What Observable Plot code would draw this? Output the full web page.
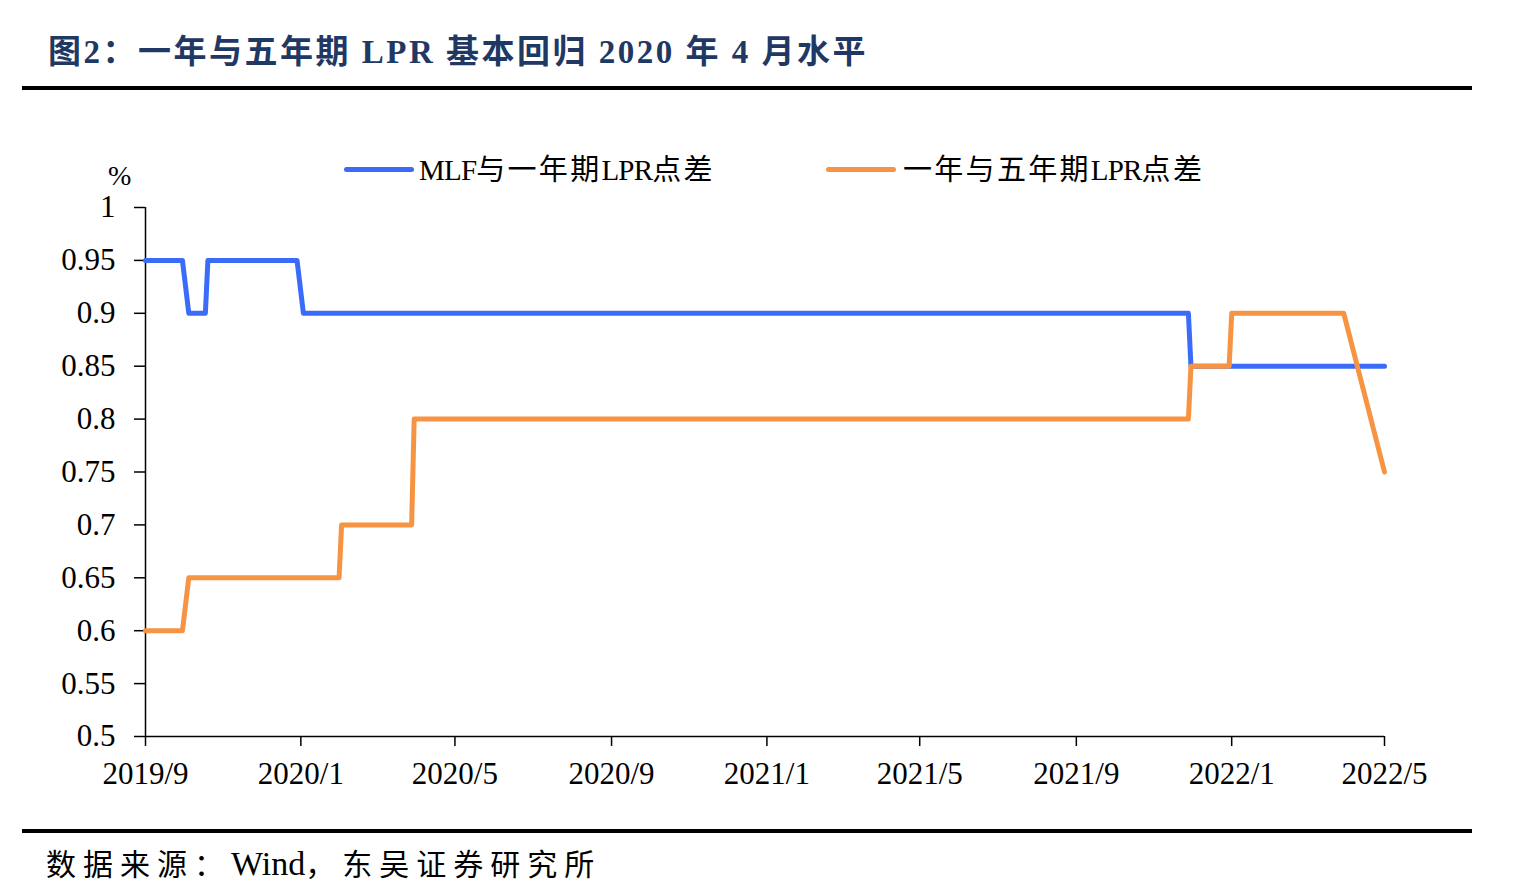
<!DOCTYPE html>
<html>
<head>
<meta charset="utf-8">
<script src="https://cdn.jsdelivr.net/npm/d3@7"></script>
<script src="https://cdn.jsdelivr.net/npm/@observablehq/plot@0.6"></script>
<style>
  html, body { margin: 0; padding: 0; background: #fff; }
  #page { position: relative; width: 1516px; height: 894px; overflow: hidden; background: #fff; }
  #chart { position: absolute; left: 0; top: 0; }
  .abs { position: absolute; white-space: nowrap; }
  #title { left: 48px; top: 30px; font: bold 33px/44px "Liberation Serif", "Noto Sans CJK SC", serif; color: #1f3864; letter-spacing: 2.5px; }
  .rule { position: absolute; left: 22px; width: 1450px; height: 4px; background: #000; }
  #source { left: 46px; top: 844px; font: 30px/40px "Liberation Serif", "Noto Sans CJK SC", serif; color: #000; }
  #source .cjk { letter-spacing: 7px; }
  #source .lat { letter-spacing: 0; font-size: 34px; }
  .legtext { font: 29px/36px "Liberation Serif", "Noto Sans CJK SC", serif; color: #000; top: 152px; }
  .legtext .cjk { letter-spacing: 2.3px; }
  .legtext .lat { letter-spacing: -0.8px; }
  .legline { position: absolute; height: 5px; border-radius: 3px; top: 167px; width: 70px; }
  #unit { left: 108px; top: 159px; font: 28px/34px "Liberation Serif", serif; color: #000; }
</style>
</head>
<body>
<div id="page">
  <div id="chart"></div>
  <div id="title" class="abs">图2：一年与五年期 LPR 基本回归 2020 年 4 月水平</div>
  <div class="rule" style="top:86px"></div>
  <div class="rule" style="top:829px"></div>
  <div id="source" class="abs"></div>
  <div id="unit" class="abs">%</div>
  <div class="legline" id="leg1line" style="left:344px"></div>
  <div class="abs legtext" id="leg1text" style="left:419px"></div>
  <div class="legline" id="leg2line" style="left:826px"></div>
  <div class="abs legtext" id="leg2text" style="left:903px"></div>
</div>
<script>
// ---- data ----
const seriesNames = ["MLF与一年期LPR点差", "一年与五年期LPR点差"];
const seriesColors = ["#3b6cf9", "#f79443"];
const sourceText = "数据来源：Wind，东吴证券研究所";

const mlfDates = ["2019-09-01","2019-09-30","2019-10-05","2019-10-18","2019-10-20","2019-12-29","2020-01-03","2021-11-28","2021-11-30","2022-05-01"];
const mlfValues = [0.95, 0.95, 0.90, 0.90, 0.95, 0.95, 0.90, 0.90, 0.85, 0.85];

const lprDates = ["2019-09-01","2019-09-30","2019-10-05","2020-01-31","2020-02-02","2020-03-28","2020-03-30","2021-11-28","2021-11-30","2021-12-30","2022-01-01","2022-03-30","2022-05-01"];
const lprValues = [0.60, 0.60, 0.65, 0.65, 0.70, 0.70, 0.80, 0.80, 0.85, 0.85, 0.90, 0.90, 0.75];

const xTickDates = ["2019-09-01","2020-01-01","2020-05-01","2020-09-01","2021-01-01","2021-05-01","2021-09-01","2022-01-01","2022-05-01"];
const xTickLabels = ["2019/9","2020/1","2020/5","2020/9","2021/1","2021/5","2021/9","2022/1","2022/5"];
const yTicks = [0.5, 0.55, 0.6, 0.65, 0.7, 0.75, 0.8, 0.85, 0.9, 0.95, 1];
const yTickLabels = ["0.5","0.55","0.6","0.65","0.7","0.75","0.8","0.85","0.9","0.95","1"];

// ---- build table ----
const parse = d3.utcParse("%Y-%m-%d");
const rows = [
  ...mlfDates.map((d, i) => ({date: parse(d), value: mlfValues[i], series: seriesNames[0]})),
  ...lprDates.map((d, i) => ({date: parse(d), value: lprValues[i], series: seriesNames[1]}))
];
const xTicks = xTickDates.map(parse);
const xLabelOf = new Map(xTicks.map((d, i) => [+d, xTickLabels[i]]));
const yLabelOf = new Map(yTicks.map((v, i) => [v, yTickLabels[i]]));
const xDomain = [xTicks[0], xTicks[xTicks.length - 1]];

const chart = Plot.plot({
  width: 1516,
  height: 894,
  marginLeft: 145,
  marginRight: 132,
  marginTop: 207,
  marginBottom: 158,
  style: {fontFamily: "'Liberation Serif', 'Times New Roman', serif", fontSize: "31px", color: "#000", background: "transparent"},
  x: {type: "utc", domain: xDomain},
  y: {domain: [0.5, 1]},
  color: {domain: seriesNames, range: seriesColors},
  marks: [
    Plot.axisY({ticks: yTicks, tickFormat: v => yLabelOf.get(+v.toFixed(2)), tickSize: 11, tickPadding: 19, strokeWidth: 1.5, fontSize: 31, label: null}),
    Plot.axisX({ticks: xTicks, tickFormat: d => xLabelOf.get(+d), tickSize: 10, tickPadding: 15, strokeWidth: 1.5, fontSize: 31, label: null}),
    Plot.ruleX([xDomain[0]], {y1: 0.5, y2: 1, stroke: "#000", strokeWidth: 1.5}),
    Plot.ruleY([0.5], {x1: xDomain[0], x2: xDomain[1], stroke: "#000", strokeWidth: 1.5}),
    Plot.line(rows, {x: "date", y: "value", z: "series", stroke: "series", strokeWidth: 5, strokeLinejoin: "round", strokeLinecap: "round"})
  ]
});
document.getElementById("chart").appendChild(chart);

// split text into Latin / CJK runs so spacing can differ
function fillRuns(el, text) {
  const runs = text.match(/[A-Za-z0-9]+|[^A-Za-z0-9]+/g) || [];
  for (const r of runs) {
    const s = document.createElement("span");
    s.className = /[A-Za-z0-9]/.test(r) ? "lat" : "cjk";
    s.textContent = r;
    el.appendChild(s);
  }
}
fillRuns(document.getElementById("leg1text"), seriesNames[0]);
fillRuns(document.getElementById("leg2text"), seriesNames[1]);
fillRuns(document.getElementById("source"), sourceText);
document.getElementById("leg1line").style.background = seriesColors[0];
document.getElementById("leg2line").style.background = seriesColors[1];
</script>
</body>
</html>
